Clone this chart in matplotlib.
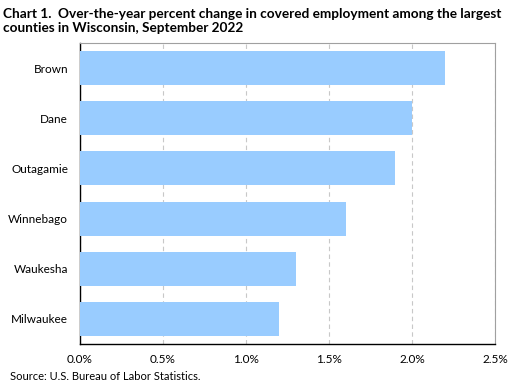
import matplotlib
matplotlib.use("Agg")
import matplotlib.pyplot as plt
from matplotlib.ticker import FuncFormatter

counties = ["Brown", "Dane", "Outagamie", "Winnebago", "Waukesha", "Milwaukee"]
pct_change = [2.2, 2.0, 1.9, 1.6, 1.3, 1.2]
x_ticks = [0.0, 0.5, 1.0, 1.5, 2.0, 2.5]

plt.rcParams["font.family"] = ["Lato", "DejaVu Sans"]

fig = plt.figure(figsize=(5.16, 3.82), dpi=100)
ax = fig.add_axes([80 / 516, 1 - 344 / 382, (495 - 80) / 516, (344 - 43) / 382])

ypos = list(range(len(counties)))
ax.barh(ypos, pct_change, height=0.68, color="#99CCFF", zorder=3)
ax.set_yticks(ypos)
ax.set_yticklabels(counties, fontsize=8.5)
ax.set_ylim(len(counties) - 0.5, -0.5)
ax.set_xlim(0, 2.5)
ax.set_xticks(x_ticks)
ax.xaxis.set_major_formatter(FuncFormatter(lambda v, _: f"{v:.1f}%"))
ax.tick_params(axis="x", labelsize=8.5, length=0, pad=7)
ax.tick_params(axis="y", length=0, pad=8.5)
ax.grid(axis="x", color="#C8C8C8", linestyle=(0, (4, 3)), linewidth=0.8, zorder=0)

for side in ("top", "right"):
    ax.spines[side].set_color("#A0A0A0")
    ax.spines[side].set_linewidth(0.8)
for side in ("left", "bottom"):
    ax.spines[side].set_color("black")
    ax.spines[side].set_linewidth(1.0)

fig.text(3 / 516, 1 - 21 / 382,
         "Chart 1.  Over-the-year percent change in covered employment among the largest\n"
         "counties in Wisconsin, September 2022",
         fontsize=9.8, fontweight="bold", va="center", linespacing=1.25)
fig.text(10 / 516, 1 - 377 / 382, "Source: U.S. Bureau of Labor Statistics.",
         fontsize=8, va="center")

fig.savefig("out.png", dpi=100)
